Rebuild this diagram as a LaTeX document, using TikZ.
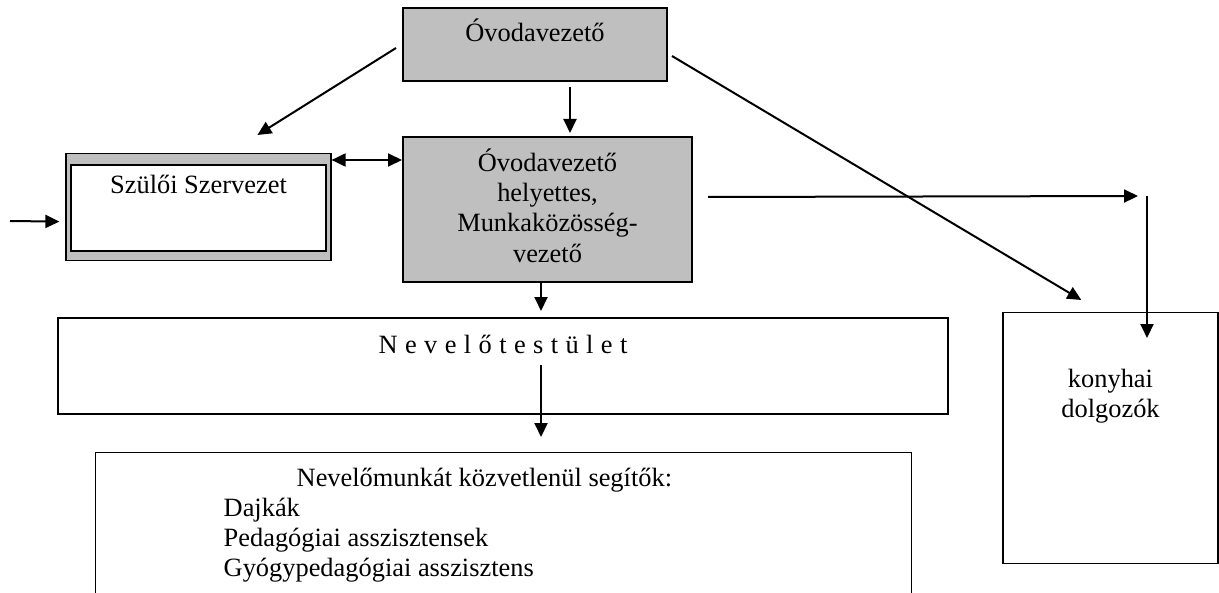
\documentclass[tikz,border=0pt]{standalone}
\usepackage{fontspec}
\setmainfont{Liberation Serif}
\usetikzlibrary{calc,positioning,arrows.meta}
\tikzset{>={Triangle[length=7pt,width=6.5pt]}}

\begin{document}
\begin{tikzpicture}[x=0.5pt,y=-0.5pt,
    every node/.style={font=\fontsize{13.2pt}{15pt}\selectfont, inner sep=0pt},
    doboz/.style={draw, line width=1pt, anchor=north},
    szurke/.style={doboz, fill=gray!50},
    nyil/.style={->, line width=1pt}]
    \useasboundingbox (0,0) rectangle (1219,593);
    \clip (0,0) rectangle (1219,593);

    \node[szurke, minimum width=132pt, text height=17pt, text depth=19.5pt] (ovez) at (535,7) {Óvodavezető};
    \node[szurke, text height=17.5pt, text depth=55pt] (helyettes) at (547.5,136)
        {\parbox[t]{144.5pt}{\centering Óvodavezető\\ helyettes,\\ Munkaközösség-\\ vezető}};

    \node[doboz, fill=gray!50, line width=0.6pt, minimum width=132.5pt, minimum height=53.5pt] (szulo) at (198.5,153) {};
    \node[doboz, fill=white, line width=1.1pt, minimum width=127.5pt, text height=14pt, text depth=29pt] (szuloszov) at (198.5,164) {Szülői Szervezet};

    \node[doboz, minimum width=445pt, text height=17.5pt, text depth=30.5pt] (nevelo) at (503,317)
        {{\spaceskip=3.7pt N e v e l ő t e s t ü l e t}};
    \node[doboz, line width=0.7pt, text height=17pt, text depth=100pt, anchor=north west] (segito) at (95,452)
        {\parbox[t]{408pt}{\leftskip=64pt \hspace*{36.5pt}Nevelőmunkát közvetlenül segítők:\\ Dajkák\\ Pedagógiai asszisztensek\\ Gyógypedagógiai asszisztens}};
    \node[doboz, line width=0.7pt, text height=37.5pt, text depth=88pt] (konyha) at (1110.5,312)
        {\parbox[t]{107.5pt}{\centering konyhai\\ dolgozók}};

    \coordinate (bal) at (10,221);
    \coordinate (fordulo) at (1147,196);

    \draw[nyil] ($(ovez.south)+(35,5)$) -- ($(helyettes.north)+(22.5,-3)$);
    \draw[nyil] ($(ovez.west)+(-6,3.5)$) -- ($(szulo.north west)+(192,-18)$);
    \draw[nyil] ($(ovez.east)+(4,11.5)$) -- ($(konyha.north west)+(79,-12)$);
    \draw[nyil,<->] ($(szulo.north east)+(0,7)$) -- ($(helyettes.north west)+(0,24)$);
    \draw[nyil] (bal) -- ($(szulo.west)+(-6,14.5)$);
    \draw[nyil] ($(helyettes.east)+(15,-12.5)$) -- ($(fordulo)+(-9,0)$);
    \draw[nyil] (fordulo) -- ($(konyha.north -| fordulo)+(0,26)$);
    \draw[nyil] ($(helyettes.south)+(-6.5,0)$) -- ($(nevelo.north)+(38,-6)$);
    \draw[nyil] ($(nevelo.north)+(38,48)$) -- ($(segito.north west)+(446,-15)$);
\end{tikzpicture}
\end{document}
